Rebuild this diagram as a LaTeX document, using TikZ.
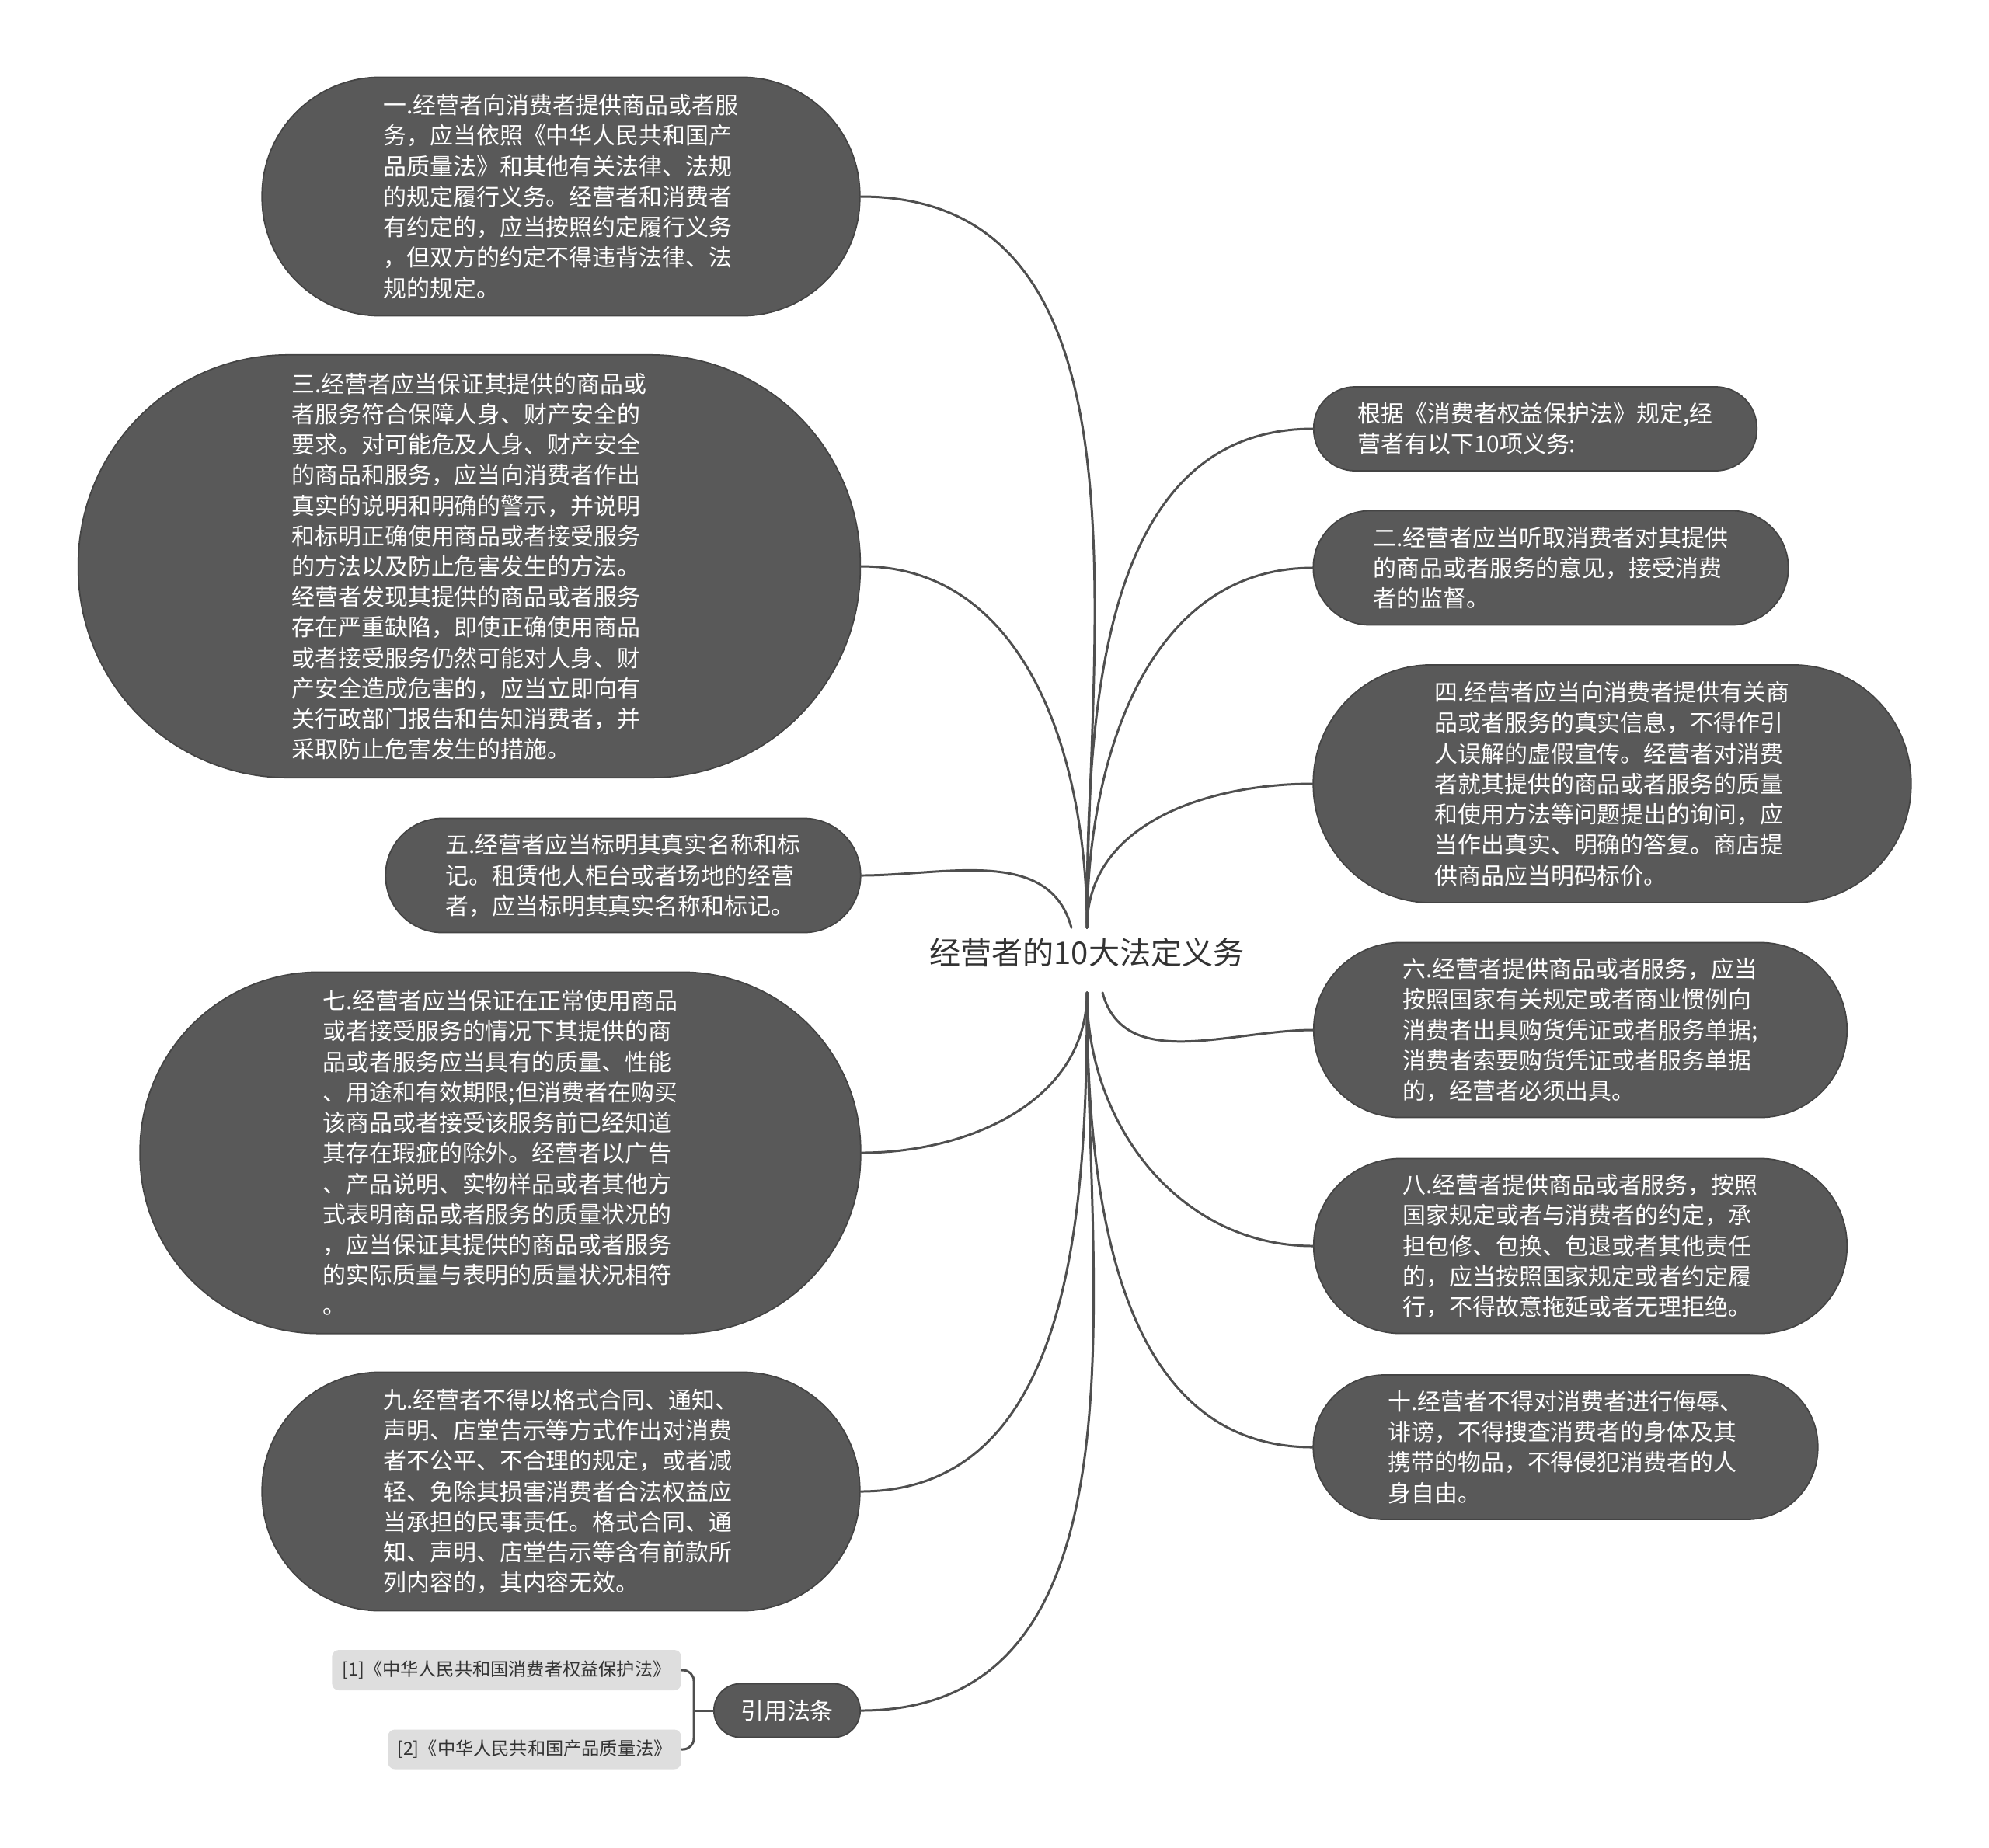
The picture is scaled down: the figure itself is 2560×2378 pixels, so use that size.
\documentclass[tikz,border=0pt]{standalone}
\usepackage{fontspec}
\newfontfamily\cjk{Noto Sans CJK SC}
\usetikzlibrary{positioning, calc}
\definecolor{boxgray}{HTML}{595959}
\definecolor{edgegray}{HTML}{444444}
\definecolor{linkgray}{HTML}{4F4F4F}
\definecolor{citegray}{HTML}{DEDEDE}
\definecolor{inkgray}{HTML}{333333}

\begin{document}
\begin{tikzpicture}[x=0.01cm, y=-0.01cm, line join=round, line cap=round,
    duty/.style={fill=boxgray, draw=edgegray, line width=0.5pt, text=white, inner sep=0pt,
      align=left, font=\cjk\fontsize{8.5}{11.15}\selectfont},
    link/.style={draw=linkgray, line width=0.85pt},
    refbox/.style={fill=citegray, rounded corners=2.5pt, text=inkgray, inner sep=0pt,
      font=\cjk\fontsize{6.6}{8}\selectfont}]
  \useasboundingbox (0,0) rectangle (2560,2378);

  \node[text=inkgray, font=\cjk\fontsize{11.4}{13}\selectfont, inner sep=0pt, minimum height=0.82cm,
    text height=0.3cm, text depth=0.2cm] (title) at (1399,1236) {经营者的10大法定义务};

  % left side
  \node[duty, minimum width=7.69cm, minimum height=3.07cm, rounded corners=1.52cm] (d1) at (722,253)
    {一.经营者向消费者提供商品或者服\\务，应当依照《中华人民共和国产\\品质量法》和其他有关法律、法规\\的规定履行义务。经营者和消费者\\有约定的，应当按照约定履行义务\\，但双方的约定不得违背法律、法\\规的规定。};
  \node[duty, minimum width=10.06cm, minimum height=5.44cm, rounded corners=2.7cm] (d3) at (604,729)
    {三.经营者应当保证其提供的商品或\\者服务符合保障人身、财产安全的\\要求。对可能危及人身、财产安全\\的商品和服务，应当向消费者作出\\真实的说明和明确的警示，并说明\\和标明正确使用商品或者接受服务\\的方法以及防止危害发生的方法。\\经营者发现其提供的商品或者服务\\存在严重缺陷，即使正确使用商品\\或者接受服务仍然可能对人身、财\\产安全造成危害的，应当立即向有\\关行政部门报告和告知消费者，并\\采取防止危害发生的措施。};
  \node[duty, minimum width=6.11cm, minimum height=1.47cm, rounded corners=0.73cm] (d5) at (802,1127)
    {五.经营者应当标明其真实名称和标\\记。租赁他人柜台或者场地的经营\\者，应当标明其真实名称和标记。};
  \node[duty, minimum width=9.27cm, minimum height=4.65cm, rounded corners=2.3cm] (d7) at (644,1484)
    {七.经营者应当保证在正常使用商品\\或者接受服务的情况下其提供的商\\品或者服务应当具有的质量、性能\\、用途和有效期限;但消费者在购买\\该商品或者接受该服务前已经知道\\其存在瑕疵的除外。经营者以广告\\、产品说明、实物样品或者其他方\\式表明商品或者服务的质量状况的\\，应当保证其提供的商品或者服务\\的实际质量与表明的质量状况相符\\。};
  \node[duty, minimum width=7.69cm, minimum height=3.07cm, rounded corners=1.52cm] (d9) at (722,1920)
    {九.经营者不得以格式合同、通知、\\声明、店堂告示等方式作出对消费\\者不公平、不合理的规定，或者减\\轻、免除其损害消费者合法权益应\\当承担的民事责任。格式合同、通\\知、声明、店堂告示等含有前款所\\列内容的，其内容无效。};
  \node[duty, minimum width=1.88cm, minimum height=0.69cm, rounded corners=0.34cm] (cite) at (1013,2202) {引用法条};
  \node[refbox, minimum width=4.49cm, minimum height=0.52cm] (ref1) at (652,2150) {[1]《中华人民共和国消费者权益保护法》};
  \node[refbox, minimum width=3.77cm, minimum height=0.51cm] (ref2) at (688,2252) {[2]《中华人民共和国产品质量法》};

  % right side
  \node[duty, minimum width=5.70cm, minimum height=1.08cm, rounded corners=0.53cm] (d0) at (1976,552)
    {根据《消费者权益保护法》规定,经\\营者有以下10项义务:};
  \node[duty, minimum width=6.11cm, minimum height=1.47cm, rounded corners=0.73cm] (d2) at (1996,731)
    {二.经营者应当听取消费者对其提供\\的商品或者服务的意见，接受消费\\者的监督。};
  \node[duty, minimum width=7.69cm, minimum height=3.06cm, rounded corners=1.52cm] (d4) at (2075,1009)
    {四.经营者应当向消费者提供有关商\\品或者服务的真实信息，不得作引\\人误解的虚假宣传。经营者对消费\\者就其提供的商品或者服务的质量\\和使用方法等问题提出的询问，应\\当作出真实、明确的答复。商店提\\供商品应当明码标价。};
  \node[duty, minimum width=6.86cm, minimum height=2.25cm, rounded corners=1.12cm] (d6) at (2034,1326)
    {六.经营者提供商品或者服务，应当\\按照国家有关规定或者商业惯例向\\消费者出具购货凭证或者服务单据;\\消费者索要购货凭证或者服务单据\\的，经营者必须出具。};
  \node[duty, minimum width=6.86cm, minimum height=2.25cm, rounded corners=1.12cm] (d8) at (2034,1604)
    {八.经营者提供商品或者服务，按照\\国家规定或者与消费者的约定，承\\担包修、包换、包退或者其他责任\\的，应当按照国家规定或者约定履\\行，不得故意拖延或者无理拒绝。};
  \node[duty, minimum width=6.49cm, minimum height=1.86cm, rounded corners=0.92cm] (d10) at (2015,1863)
    {十.经营者不得对消费者进行侮辱、\\诽谤，不得搜查消费者的身体及其\\携带的物品，不得侵犯消费者的人\\身自由。};

  % connectors
  \foreach \n in {d1,d3}
    \draw[link] (title.north) to[out=90, in=0] (\n.east);
  \draw[link] ([xshift=-0.2cm]title.north) to[out=105, in=0] (d5.east);
  \foreach \n in {d7,d9,cite}
    \draw[link] (title.south) to[out=-90, in=0] (\n.east);
  \foreach \n in {d0,d2,d4}
    \draw[link] (title.north) to[out=90, in=180] (\n.west);
  \draw[link] ([xshift=0.2cm]title.south) to[out=-75, in=180] (d6.west);
  \foreach \n in {d8,d10}
    \draw[link] (title.south) to[out=-90, in=180] (\n.west);

  \coordinate (bj) at (893,2202);
  \draw[link] (cite.west) -- (bj);
  \draw[link, rounded corners=0.14cm] (ref1.east) -| (bj) |- (ref2.east);
\end{tikzpicture}
\end{document}
